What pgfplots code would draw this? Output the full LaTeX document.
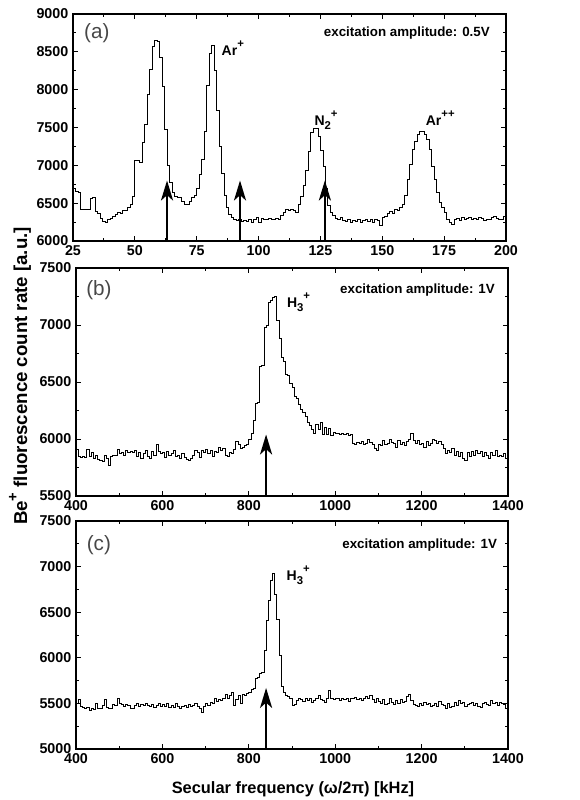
\documentclass[border=0pt]{standalone}
\usepackage{fontspec}
\setmainfont{Liberation Sans}
\usepackage{pgfplots}
\pgfplotsset{compat=1.18}
\usetikzlibrary{arrows.meta}
\newcommand{\sub}[1]{\raisebox{-3pt}{\fontsize{8.5}{8.5}\selectfont #1}}
\newcommand{\sups}[1]{\raisebox{6pt}{\fontsize{8.5}{8.5}\selectfont #1}}
\pgfplotsset{
  panel/.style={
    scale only axis, anchor=north west,
    axis line style={line width=0.9pt},
    tick align=inside, tick pos=both,
    major tick length=4pt, minor tick length=2.3pt,
    every tick/.style={black, line width=0.7pt},
    tick label style={font=\bfseries\fontsize{10.7}{12}\selectfont},
    /pgf/number format/assume math mode=true,
    /pgf/number format/1000 sep={},
    scaled ticks=false,
    minor x tick num=1, minor y tick num=1,
  },
  trace/.style={const plot, black, line width=0.6pt, mark=none},
  arr/.style={line width=2pt, black, -{Stealth[length=15pt,width=9pt,inset=4pt]}},
}
\tikzset{
  lbl/.style={font=\bfseries\fontsize{10}{12}\selectfont, inner sep=0pt},
  ion/.style={font=\bfseries\fontsize{10.5}{12}\selectfont, inner sep=0pt},
  pl/.style={font=\fontsize{15.5}{18}\selectfont, text=black!72},
}
\begin{document}
\begin{tikzpicture}
\useasboundingbox (0,0) rectangle (434.25pt,-600pt);
% ---------------- panel (a)
\begin{axis}[panel, at={(54.75pt,-10.5pt)}, width=324.75pt, height=170.25pt,
  xmin=25, xmax=200, ymin=6000, ymax=9000,
  xtick={25,50,...,200}, ytick={6000,6500,...,9000}]
\addplot[trace] coordinates {
(25,6690)(26,6650)(27,6640)(28,6420)(29,6420)(30,6420)(31,6420)(32,6560)(33,6570)(34,6390)
(35,6360)(36,6300)(37,6260)(38,6250)(39,6280)(40,6300)(41,6330)(42,6350)(43,6380)(44,6370)
(45,6410)(46,6400)(47,6450)(48,6480)(49,6590)(50,7070)(51,7060)(52,7040)(53,7300)(54,7540)
(55,7940)(56,8270)(57,8570)(58,8645)(59,8640)(60,8430)(61,8040)(62,7480)(63,7000)(64,6770)
(65,6640)(66,6590)(67,6580)(68,6570)(69,6520)(70,6480)(71,6490)(72,6520)(73,6570)(74,6600)
(75,6700)(76,6880)(77,7080)(78,7450)(79,8050)(80,8480)(81,8590)(82,8250)(83,7730)(84,7250)
(85,6900)(86,6600)(87,6440)(88,6350)(89,6310)(90,6280)(91,6270)(92,6280)(93,6260)(94,6270)
(95,6260)(96,6290)(97,6250)(98,6280)(99,6310)(100,6250)(101,6300)(102,6290)(103,6280)(104,6300)
(105,6290)(106,6280)(107,6300)(108,6290)(109,6340)(110,6380)(111,6420)(112,6410)(113,6420)(114,6410)
(115,6380)(116,6480)(117,6590)(118,6730)(119,6930)(120,7180)(121,7430)(122,7490)(123,7490)(124,7380)
(125,7200)(126,6990)(127,6700)(128,6470)(129,6380)(130,6340)(131,6300)(132,6280)(133,6310)(134,6270)
(135,6260)(136,6290)(137,6250)(138,6270)(139,6260)(140,6280)(141,6250)(142,6270)(143,6290)(144,6260)
(145,6280)(146,6250)(147,6290)(148,6270)(149,6210)(150,6310)(151,6320)(152,6360)(153,6390)(154,6370)
(155,6420)(156,6400)(157,6450)(158,6490)(159,6600)(160,6820)(161,7010)(162,7210)(163,7320)(164,7410)
(165,7450)(166,7450)(167,7410)(168,7340)(169,7210)(170,6990)(171,6820)(172,6640)(173,6510)(174,6450)
(175,6380)(176,6290)(177,6240)(178,6220)(179,6280)(180,6300)(181,6270)(182,6310)(183,6290)(184,6300)
(185,6310)(186,6280)(187,6300)(188,6290)(189,6310)(190,6300)(191,6270)(192,6290)(193,6280)(194,6310)
(195,6320)(196,6300)(197,6290)(198,6280)(199,6330)(200,6380)};
\addplot[arr] coordinates {(63,6000)(63,6800)};
\addplot[arr] coordinates {(92.5,6000)(92.5,6800)};
\addplot[arr] coordinates {(126.8,6000)(126.8,6800)};
\node[pl] at (rel axis cs:0.055,0.916) {(a)};
\node[lbl, anchor=east] at (rel axis cs:0.963,0.916) {excitation amplitude: 0.5V};
\node[ion, anchor=base west] at (axis cs:85,8450) {Ar\sups{+}};
\node[ion, anchor=base west] at (axis cs:122.5,7530) {N\sub{2}\sups{+}};
\node[ion, anchor=base west] at (axis cs:167.5,7530) {Ar\sups{++}};
\end{axis}
% ---------------- panel (b)
\begin{axis}[panel, at={(57pt,-201pt)}, width=324pt, height=171pt,
  xmin=400, xmax=1400, ymin=5500, ymax=7500,
  xtick={400,600,...,1400}, ytick={5500,6000,...,7500}]
\addplot[trace] coordinates {
(400,5910)(405,5850)(410,5840)(415,5845)(420,5835)(425,5905)(430,5850)(435,5880)(440,5830)(445,5860)
(450,5820)(455,5810)(460,5800)(465,5860)(470,5830)(475,5770)(480,5850)(485,5860)(490,5855)(495,5910)
(500,5870)(505,5880)(510,5860)(515,5900)(520,5880)(525,5890)(530,5880)(535,5900)(540,5850)(545,5880)
(550,5830)(555,5870)(560,5900)(565,5850)(570,5830)(575,5890)(580,5860)(585,5950)(590,5890)(595,5870)
(600,5880)(605,5840)(610,5890)(615,5860)(620,5870)(625,5900)(630,5850)(635,5860)(640,5830)(645,5870)
(650,5840)(655,5820)(660,5810)(665,5830)(670,5860)(675,5900)(680,5880)(685,5840)(690,5900)(695,5880)
(700,5910)(705,5870)(710,5900)(715,5850)(720,5890)(725,5880)(730,5930)(735,5900)(740,5920)(745,5860)
(750,5850)(755,5880)(760,5870)(765,5910)(770,5980)(775,5950)(780,5920)(785,5930)(790,5940)(795,5950)
(800,6000)(805,6050)(810,6160)(815,6310)(820,6320)(825,6640)(830,6650)(835,6980)(840,7000)(845,7200)
(850,7220)(855,7240)(860,7250)(865,7040)(870,6880)(875,6720)(880,6680)(885,6570)(890,6560)(895,6490)
(900,6450)(905,6370)(910,6360)(915,6300)(920,6260)(925,6230)(930,6200)(935,6150)(940,6120)(945,6080)
(950,6050)(955,6130)(960,6080)(965,6150)(970,6040)(975,6100)(980,6040)(985,6090)(990,6030)(995,6060)
(1000,6050)(1005,6050)(1010,6040)(1015,6050)(1020,6040)(1025,6050)(1030,6030)(1035,6040)(1040,5960)(1045,5950)
(1050,5970)(1055,5960)(1060,5980)(1065,5950)(1070,5960)(1075,6000)(1080,5970)(1085,5950)(1090,5920)(1095,5900)
(1100,5950)(1105,5940)(1110,5990)(1115,5950)(1120,5960)(1125,6000)(1130,5970)(1135,5960)(1140,5930)(1145,5990)
(1150,5950)(1155,5970)(1160,5940)(1165,5980)(1170,6000)(1175,6050)(1180,5990)(1185,5960)(1190,5990)(1195,5950)
(1200,5960)(1205,5930)(1210,5980)(1215,5940)(1220,5960)(1225,6000)(1230,5990)(1235,5960)(1240,5980)(1245,5950)
(1250,5920)(1255,5870)(1260,5900)(1265,5880)(1270,5920)(1275,5860)(1280,5890)(1285,5850)(1290,5880)(1295,5830)
(1300,5810)(1305,5880)(1310,5850)(1315,5890)(1320,5860)(1325,5900)(1330,5870)(1335,5890)(1340,5850)(1345,5880)
(1350,5860)(1355,5830)(1360,5880)(1365,5860)(1370,5900)(1375,5850)(1380,5860)(1385,5850)(1390,5870)(1395,5830)
(1400,5910)};
\addplot[arr] coordinates {(840,5500)(840,6040)};
\node[pl] at (rel axis cs:0.053,0.904) {(b)};
\node[lbl, anchor=east] at (rel axis cs:0.97,0.904) {excitation amplitude: 1V};
\node[ion, anchor=base west] at (axis cs:888,7150) {H\sub{3}\sups{+}};
\end{axis}
% ---------------- panel (c)
\begin{axis}[panel, at={(57pt,-390.75pt)}, width=324pt, height=171pt,
  xmin=400, xmax=1400, ymin=5000, ymax=7500,
  xtick={400,600,...,1400}, ytick={5000,5500,...,7500}]
\addplot[trace] coordinates {
(400,5500)(405,5540)(410,5470)(415,5460)(420,5450)(425,5460)(430,5420)(435,5440)(440,5430)(445,5500)
(450,5450)(455,5440)(460,5480)(465,5540)(470,5460)(475,5440)(480,5450)(485,5490)(490,5480)(495,5560)
(500,5500)(505,5490)(510,5470)(515,5490)(520,5480)(525,5440)(530,5450)(535,5480)(540,5500)(545,5470)
(550,5490)(555,5480)(560,5500)(565,5480)(570,5470)(575,5490)(580,5460)(585,5480)(590,5500)(595,5470)
(600,5490)(605,5470)(610,5500)(615,5460)(620,5480)(625,5460)(630,5500)(635,5470)(640,5440)(645,5470)
(650,5480)(655,5460)(660,5490)(665,5470)(670,5480)(675,5500)(680,5470)(685,5440)(690,5400)(695,5470)
(700,5500)(705,5480)(710,5510)(715,5500)(720,5550)(725,5520)(730,5540)(735,5530)(740,5550)(745,5600)
(750,5560)(755,5590)(760,5620)(765,5480)(770,5540)(775,5590)(780,5500)(785,5600)(790,5590)(795,5610)
(800,5620)(805,5650)(810,5660)(815,5770)(820,5780)(825,5830)(830,5840)(835,6080)(840,6410)(845,6630)
(850,6850)(855,6930)(860,6700)(865,6420)(870,6030)(875,5690)(880,5620)(885,5590)(890,5580)(895,5560)
(900,5480)(905,5490)(910,5530)(915,5560)(920,5540)(925,5520)(930,5550)(935,5530)(940,5560)(945,5510)
(950,5530)(955,5550)(960,5590)(965,5540)(970,5530)(975,5510)(980,5550)(985,5640)(990,5560)(995,5540)
(1000,5550)(1005,5560)(1010,5530)(1015,5550)(1020,5540)(1025,5560)(1030,5520)(1035,5560)(1040,5550)(1045,5570)
(1050,5540)(1055,5560)(1060,5530)(1065,5560)(1070,5580)(1075,5550)(1080,5590)(1085,5540)(1090,5510)(1095,5560)
(1100,5520)(1105,5500)(1110,5540)(1115,5490)(1120,5500)(1125,5560)(1130,5510)(1135,5490)(1140,5530)(1145,5500)
(1150,5540)(1155,5510)(1160,5520)(1165,5580)(1170,5600)(1175,5530)(1180,5490)(1185,5480)(1190,5470)(1195,5500)
(1200,5480)(1205,5510)(1210,5490)(1215,5500)(1220,5470)(1225,5480)(1230,5500)(1235,5470)(1240,5520)(1245,5490)
(1250,5480)(1255,5450)(1260,5500)(1265,5460)(1270,5470)(1275,5510)(1280,5480)(1285,5530)(1290,5500)(1295,5510)
(1300,5470)(1305,5490)(1310,5500)(1315,5510)(1320,5480)(1325,5500)(1330,5470)(1335,5460)(1340,5500)(1345,5510)
(1350,5490)(1355,5480)(1360,5530)(1365,5500)(1370,5510)(1375,5480)(1380,5510)(1385,5500)(1390,5490)(1395,5450)
(1400,5520)};
\addplot[arr] coordinates {(840,5000)(840,5670)};
\node[pl] at (rel axis cs:0.053,0.895) {(c)};
\node[lbl, anchor=east] at (rel axis cs:0.975,0.895) {excitation amplitude: 1V};
\node[ion, anchor=base west] at (axis cs:887,6850) {H\sub{3}\sups{+}};
\end{axis}
% ---------------- shared labels
\node[rotate=90, anchor=base, font=\bfseries\fontsize{14}{16}\selectfont] at (20.25pt,-282pt) {Be\raisebox{7pt}{\fontsize{11}{11}\selectfont +} fluorescence count rate [a.u.]};
\node[anchor=base, font=\bfseries\fontsize{12.3}{15}\selectfont] at (219.75pt,-594.75pt) {Secular frequency (ω/2π) [kHz]};
\end{tikzpicture}
\end{document}
